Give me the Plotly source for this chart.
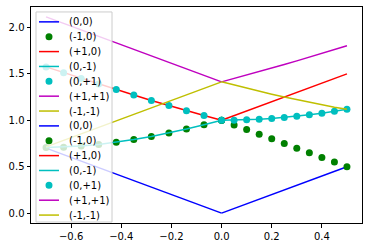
import plotly.graph_objects as go

# ---- data ----
x_left = [-0.70, -0.63, -0.56, -0.49, -0.42, -0.35, -0.28, -0.21, -0.14, -0.07, 0.00]
x_right = [0.00, 0.05, 0.10, 0.15, 0.20, 0.25, 0.30, 0.35, 0.40, 0.45, 0.50]

d00_left = [0.70, 0.63, 0.56, 0.49, 0.42, 0.35, 0.28, 0.21, 0.14, 0.07, 0.00]
dm10_left = [0.707, 0.711, 0.722, 0.740, 0.763, 0.792, 0.826, 0.864, 0.906, 0.952, 1.000]
dp10_left = [1.575, 1.513, 1.451, 1.390, 1.331, 1.272, 1.214, 1.158, 1.103, 1.051, 1.000]
d0m1_left = [0.707, 0.711, 0.722, 0.740, 0.763, 0.792, 0.826, 0.864, 0.906, 0.952, 1.000]
d0p1_left = [1.575, 1.513, 1.451, 1.390, 1.331, 1.272, 1.214, 1.158, 1.103, 1.051, 1.000]
dpp_left = [2.114, 2.044, 1.974, 1.904, 1.834, 1.764, 1.694, 1.624, 1.554, 1.484, 1.414]
dmm_left = [0.714, 0.784, 0.854, 0.924, 0.994, 1.064, 1.134, 1.204, 1.274, 1.344, 1.414]

d00_right = [0.00, 0.05, 0.10, 0.15, 0.20, 0.25, 0.30, 0.35, 0.40, 0.45, 0.50]
dm10_right = [1.00, 0.95, 0.90, 0.85, 0.80, 0.75, 0.70, 0.65, 0.60, 0.55, 0.50]
dp10_right = [1.00, 1.05, 1.10, 1.15, 1.20, 1.25, 1.30, 1.35, 1.40, 1.45, 1.50]
d0m1_right = [1.000, 1.001, 1.005, 1.011, 1.020, 1.031, 1.044, 1.059, 1.077, 1.097, 1.118]
d0p1_right = [1.000, 1.001, 1.005, 1.011, 1.020, 1.031, 1.044, 1.059, 1.077, 1.097, 1.118]
dpp_right = [1.414, 1.450, 1.487, 1.524, 1.562, 1.601, 1.640, 1.680, 1.720, 1.761, 1.803]
dmm_right = [1.414, 1.379, 1.345, 1.312, 1.281, 1.250, 1.221, 1.193, 1.166, 1.141, 1.118]

labels = ["(0,0)", "(-1,0)", "(+1,0)", "(0,-1)", "(0,+1)", "(+1,+1)", "(-1,-1)"]
x_ticks = [-0.6, -0.4, -0.2, 0.0, 0.2, 0.4]
y_ticks = [0.0, 0.5, 1.0, 1.5, 2.0]

# ---- styles ----
colors = ["#0000ff", "#008000", "#ff0000", "#00bfbf", "#00bfbf", "#bf00bf", "#bfbf00"]
modes = ["lines", "markers", "lines", "lines", "markers", "lines", "lines"]
LW = 1.5
MS = 7

left_series = [d00_left, dm10_left, dp10_left, d0m1_left, d0p1_left, dpp_left, dmm_left]
right_series = [d00_right, dm10_right, dp10_right, d0m1_right, d0p1_right, dpp_right, dmm_right]

fig = go.Figure()
for xs, group in ((x_left, left_series), (x_right, right_series)):
    for ys, col, mode, lab in zip(group, colors, modes, labels):
        if mode == "lines":
            fig.add_trace(go.Scatter(x=xs, y=ys, mode="lines", name=lab,
                                     line=dict(color=col, width=LW), showlegend=False))
        else:
            fig.add_trace(go.Scatter(x=xs, y=ys, mode="markers", name=lab,
                                     marker=dict(color=col, size=MS, line=dict(width=0)),
                                     showlegend=False))

# ---- layout geometry (pixels) ----
FIG_W, FIG_H = 372, 248
L, R, T, B = 31, 362, 6, 224
W, H = R - L, B - T


def px_x(p):
    return (p - L) / W


def px_y(p):
    return (B - p) / H


font = dict(family="DejaVu Sans", size=10, color="black")

axis_common = dict(showline=True, mirror=True, linecolor="black", linewidth=1,
                   ticks="outside", ticklen=3.5, tickwidth=1, tickcolor="black",
                   showgrid=False, zeroline=False, tickformat=".1f",
                   tickfont=font)

fig.update_layout(
    width=FIG_W, height=FIG_H,
    margin=dict(l=L, r=FIG_W - R, t=T, b=FIG_H - B, pad=0),
    paper_bgcolor="white", plot_bgcolor="white",
    font=font, showlegend=False,
    xaxis=dict(range=[-0.76, 0.56], tickvals=x_ticks, **axis_common),
    yaxis=dict(range=[-0.106, 2.22], tickvals=y_ticks, **axis_common),
)

# ---- custom legend (matplotlib-style, 14 entries) ----
legend_labels = labels + labels
legend_colors = colors + colors
legend_modes = modes + modes
box_l, box_r, box_t, box_b = 36, 112, 11, 223
shapes = [dict(type="rect", xref="paper", yref="paper", layer="above",
               x0=px_x(box_l), x1=px_x(box_r), y0=px_y(box_b), y1=px_y(box_t),
               fillcolor="rgba(255,255,255,0.8)", line=dict(color="#cccccc", width=1))]
annotations = []
row0, row_step = 21, 15
for i, (lab, col, mode) in enumerate(zip(legend_labels, legend_colors, legend_modes)):
    yc = px_y(row0 + row_step * i)
    if mode == "lines":
        shapes.append(dict(type="line", xref="paper", yref="paper", layer="above",
                           x0=px_x(39), x1=px_x(59), y0=yc, y1=yc,
                           line=dict(color=col, width=LW)))
    else:
        shapes.append(dict(type="circle", xref="paper", yref="paper", layer="above",
                           xsizemode="pixel", ysizemode="pixel",
                           xanchor=px_x(49), yanchor=yc,
                           x0=-MS / 2, x1=MS / 2, y0=-MS / 2, y1=MS / 2,
                           fillcolor=col, line=dict(width=0)))
    annotations.append(dict(xref="paper", yref="paper", x=px_x(67), y=yc,
                            xanchor="left", yanchor="middle", text=lab,
                            showarrow=False, font=font))

fig.update_layout(shapes=shapes, annotations=annotations)

fig.write_html("out.html", config={"displayModeBar": False})
